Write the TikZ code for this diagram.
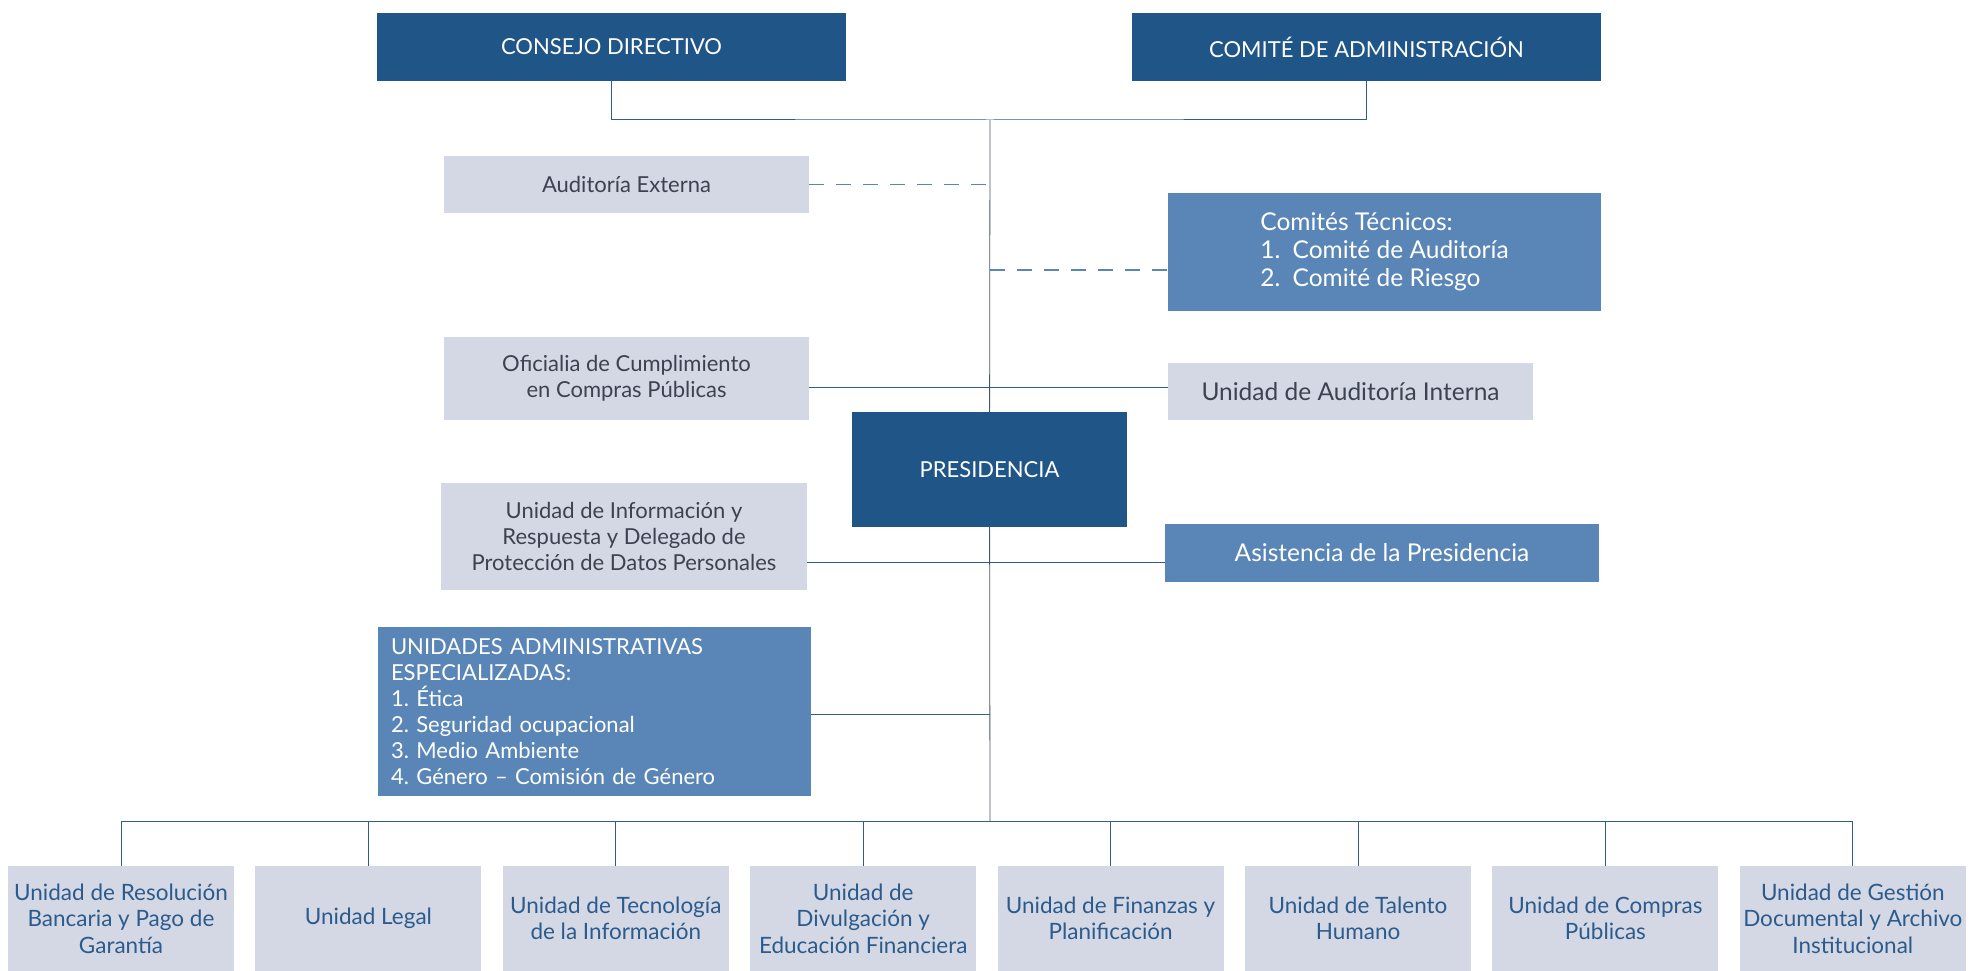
\documentclass[tikz,border=0pt]{standalone}
\usepackage{fontspec}
\setmainfont{Lato}
\usetikzlibrary{positioning,calc}

\definecolor{dkblue}{HTML}{1F5587}
\definecolor{mdblue}{HTML}{5A86B7}
\definecolor{ltgray}{HTML}{D4D8E4}
\definecolor{txtgray}{HTML}{3D4250}
\definecolor{txtblue}{HTML}{2B5B8C}
\definecolor{lnblue}{HTML}{2F5D8C}
\definecolor{lngray}{HTML}{4A5566}

\begin{document}
\begin{tikzpicture}[x=1pt, y=-1pt, node distance=21pt,
  box/.style={inner sep=0pt, align=center},
  topbox/.style={box, fill=dkblue, text=white, font=\fontsize{22}{26}\selectfont},
  greybox/.style={box, fill=ltgray, text=txtgray, font=\fontsize{22}{26}\selectfont},
  bluebox/.style={box, fill=mdblue, text=white, font=\fontsize{24.5}{28}\selectfont},
  unitbox/.style={box, fill=ltgray, text=txtblue, minimum width=226pt, minimum height=105pt, font=\fontsize{22.5}{26.5}\selectfont},
  link/.style={draw=lnblue, line width=1pt},
  trunk/.style={draw=lngray, line width=0.8pt},
  dashlink/.style={draw=mdblue, line width=1.2pt, dash pattern=on 15pt off 12pt}]

  \useasboundingbox (0,0) rectangle (1977,971);

  % governing bodies
  \node[topbox, minimum width=469pt, minimum height=68pt] (consejo) at (611.5,47) {CONSEJO DIRECTIVO};
  \node[topbox, minimum width=469pt, minimum height=68pt] (comite) at (1366.5,47) {COMITÉ DE ADMINISTRACIÓN};

  % staff units around the trunk
  \node[greybox, minimum width=365pt, minimum height=57pt] (auditext) at (626.5,184.5) {Auditoría Externa};
  \node[bluebox, align=left, minimum width=433pt, minimum height=118pt] (comites) at (1384.5,252)
    {Comités Técnicos:\\1.\enspace Comité de Auditoría\\2.\enspace Comité de Riesgo};
  \node[greybox, minimum width=365pt, minimum height=83pt] (oficialia) at (626.5,378.5)
    {Oficialia de Cumplimiento\\en Compras Públicas};
  \node[greybox, font=\fontsize{24.5}{28}\selectfont, minimum width=365pt, minimum height=57pt] (audint) at (1350.5,391.5)
    {Unidad de Auditoría Interna};
  \node[topbox, minimum width=275pt, minimum height=115pt] (presidencia) at (989.5,469.5) {PRESIDENCIA};
  \node[greybox, minimum width=366pt, minimum height=107pt] (uinfo) at (624,536.5)
    {Unidad de Información y\\Respuesta y Delegado de\\Protección de Datos Personales};
  \node[bluebox, minimum width=434pt, minimum height=58pt] (asist) at (1382,553) {Asistencia de la Presidencia};
  \node[bluebox, font=\fontsize{22}{26}\selectfont\frenchspacing, align=left, text width=407pt, inner xsep=13pt, minimum height=169pt] (unidades) at (594.5,711.5)
    {UNIDADES ADMINISTRATIVAS\\ESPECIALIZADAS:\\1. Ética\\2. Seguridad ocupacional\\3. Medio Ambiente\\4. Género – Comisión de Género};

  % operative units
  \node[unitbox] (u1) at (121,918.5) {Unidad de Resolución\\Bancaria y Pago de\\Garantía};
  \foreach \i/\j/\txt in {2/1/{Unidad Legal},
      3/2/{Unidad de Tecnología\\de la Información},
      4/3/{Unidad de\\Divulgación y\\Educación Financiera},
      5/4/{Unidad de Finanzas y\\Planificación},
      6/5/{Unidad de Talento\\Humano},
      7/6/{Unidad de Compras\\Públicas},
      8/7/{Unidad de Gestión\\Documental y Archivo\\Institucional}}
    \node[unitbox, right=of u\j] (u\i) {\txt};

  % connectors
  \coordinate (top) at (990,120);
  \coordinate (bus) at (990,821);
  \coordinate (j0) at (990,270);
  \coordinate (j1) at (990,387);
  \coordinate (j2) at (990,562);
  \coordinate (j3) at (990,714);

  \draw[link] (consejo.south) |- (top) -| (comite.south);
  \draw[trunk] (top) -- (presidencia);
  \draw[trunk] (presidencia) -- (bus);
  \draw[dashlink] (auditext) -- (auditext -| top);
  \draw[dashlink] (j0) -- (comites.west |- j0);
  \draw[link] (oficialia.east |- j1) -- (audint.west |- j1);
  \draw[link] (uinfo.east |- j2) -- (asist.west |- j2);
  \draw[link] (unidades.east |- j3) -- (j3);
  \draw[link] (u1.north |- bus) -- (u8.north |- bus);
  \foreach \i in {1,...,8}
    \draw[link] (u\i.north |- bus) -- (u\i.north);
\end{tikzpicture}
\end{document}
